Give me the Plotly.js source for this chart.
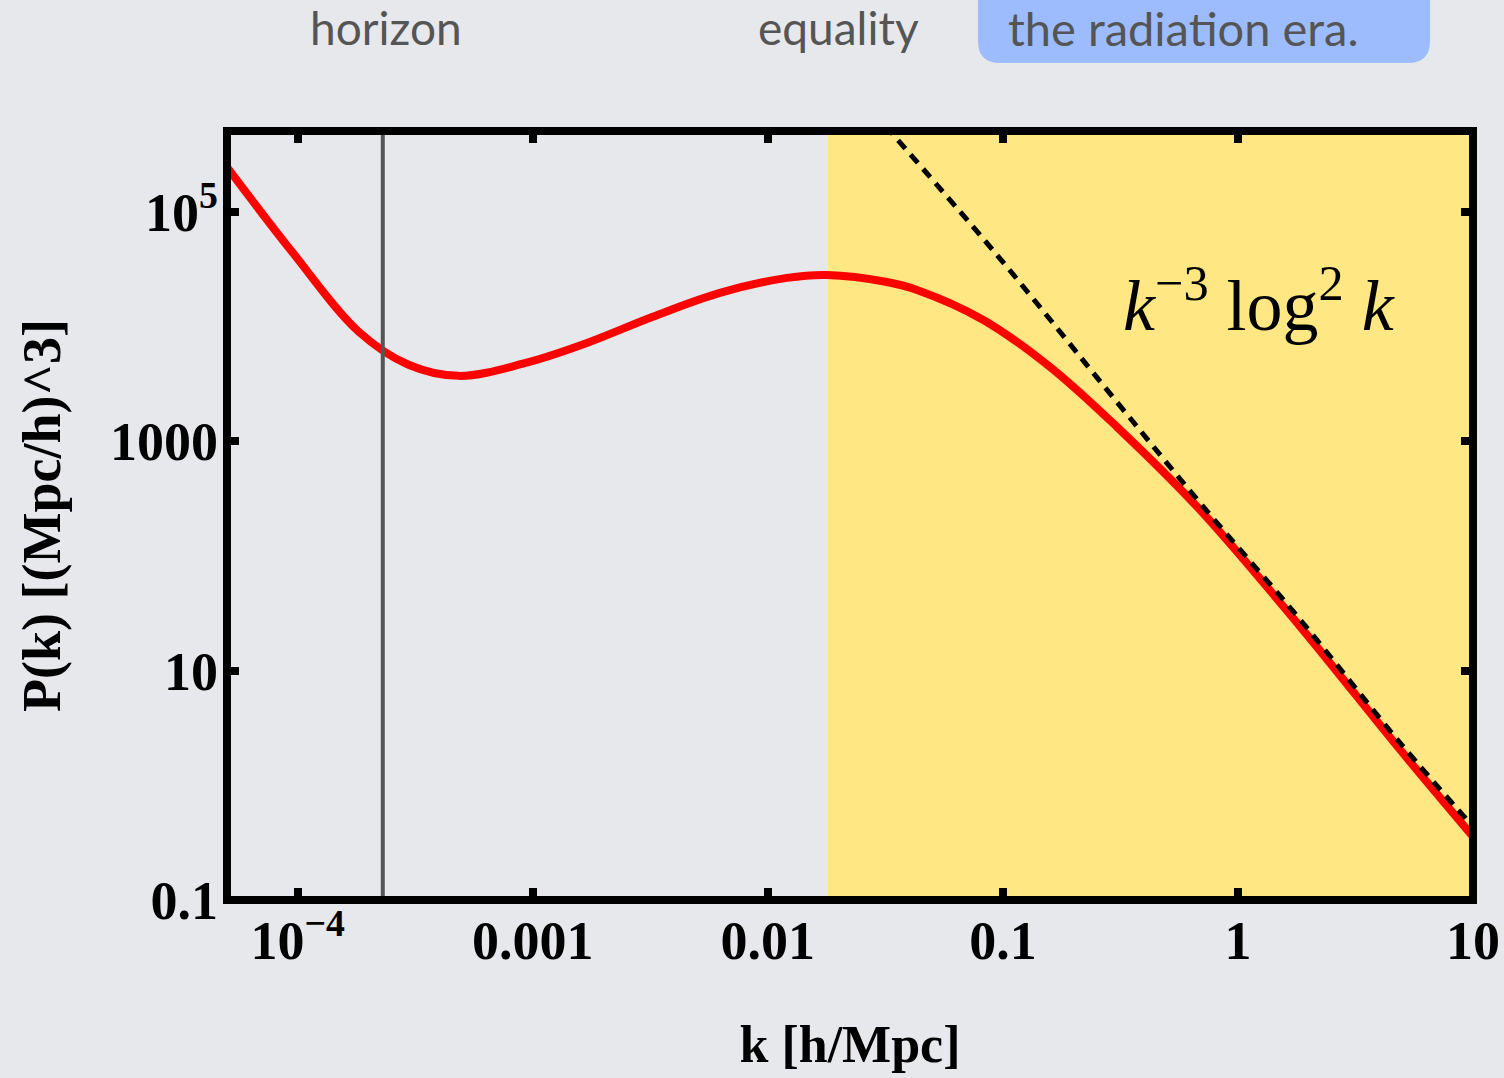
<!DOCTYPE html>
<html>
<head>
<meta charset="utf-8">
<script src="https://cdn.plot.ly/plotly-3.0.1.min.js"></script>
<style>
  html, body { margin: 0; padding: 0; background: #e6e8ec; }
  #chart { width: 1504px; height: 1078px; }
</style>
</head>
<body>
<div id="chart"></div>
<script>
// ---- Data ----
const kPower = [4.99e-5, 9.53e-5, 1.82e-4, 2.96e-4, 4.84e-4, 9.33e-4, 1.70e-3, 3.24e-3, 6.25e-3, 1.205e-2,
                1.78e-2, 3.21e-2, 4.31e-2, 8.22e-2, 0.1585, 0.305, 0.689, 1.84, 4.89, 10];
const pPower = [2.47e5, 4.40e4, 9.0e3, 4.65e3, 3.72e3, 4.83e3, 7.21e3, 1.22e4, 1.97e4, 2.66e4,
                2.82e4, 2.45e4, 2.09e4, 1.15e4, 4.46e3, 1.34e3, 253, 24.2, 2.05, 0.357];

const kAsym = [0.028, 0.0943, 0.305, 0.689, 1.84, 4.89, 10];
const pAsym = [7.5e5, 4.22e4, 2.21e3, 291, 27.8, 2.35, 0.436];

const horizonK = 2.3e-4;          // vertical grey line
const equalityK = 0.018;          // start of shaded radiation era region
const xRangeK = [5e-5, 10];
const yRangeP = [0.1, 5.08e5];

const xTickVals = [1e-4, 1e-3, 1e-2, 0.1, 1, 10];
const xTickText = ['10<sup>\u22124</sup>', '0.001', '0.01', '0.1', '1', '10'];
const yTickVals = [0.1, 10, 1000, 1e5];
const yTickText = ['0.1', '10', '1000', '10<sup>5</sup>'];

const asymLabel = '<i>k</i><sup>\u22123</sup> log<sup>2</sup> <i>k</i>';
const topLabels = ['horizon', 'equality', 'the radiation era.'];

// ---- Figure ----
const serif = 'Liberation Serif, Times New Roman, serif';
const sans = 'Lato, Open Sans, sans-serif';
const bg = '#e6e8ec';

const traces = [
  {
    x: kPower, y: pPower, type: 'scatter', mode: 'lines',
    line: { color: '#ff0000', width: 8, shape: 'spline', smoothing: 1.0 },
    hoverinfo: 'skip', showlegend: false
  },
  {
    x: kAsym, y: pAsym, type: 'scatter', mode: 'lines',
    line: { color: '#000000', width: 5, dash: '11px,8px', shape: 'spline' },
    hoverinfo: 'skip', showlegend: false
  }
];

// blue rounded box (paper coords)
const bx0 = 0.6027, bx1 = 0.9655, byb = 1.0884, byt = 1.25, rx = 0.0177, ry = 0.0286;
const boxPath = `M ${bx0},${byt} L ${bx0},${byb + ry} Q ${bx0},${byb} ${bx0 + rx},${byb} ` +
                `L ${bx1 - rx},${byb} Q ${bx1},${byb} ${bx1},${byb + ry} L ${bx1},${byt} Z`;

const axisCommon = {
  type: 'log',
  ticks: 'inside', ticklen: 12, tickwidth: 8, tickcolor: '#000',
  mirror: 'ticks', showline: false, showgrid: false, zeroline: false,
  tickfont: { family: serif, size: 54, color: '#000', weight: 'bold' },
  fixedrange: true
};

const layout = {
  width: 1504, height: 1078,
  margin: { l: 227, r: 31, t: 131, b: 178 },
  paper_bgcolor: bg, plot_bgcolor: bg,
  xaxis: Object.assign({}, axisCommon, {
    range: [Math.log10(xRangeK[0]), Math.log10(xRangeK[1])],
    tickmode: 'array', tickvals: xTickVals, ticktext: xTickText,
    ticklabelstandoff: 4,
    title: { text: 'k [h/Mpc]', font: { family: serif, size: 52, color: '#000', weight: 'bold' }, standoff: 55 }
  }),
  yaxis: Object.assign({}, axisCommon, {
    range: [Math.log10(yRangeP[0]), Math.log10(yRangeP[1])],
    tickmode: 'array', tickvals: yTickVals, ticktext: yTickText,
    ticklabelstandoff: 8,
    title: { text: 'P(k) [(Mpc/h)^3]', font: { family: serif, size: 54, color: '#000', weight: 'bold' }, standoff: 32 }
  }),
  shapes: [
    { type: 'rect', xref: 'x', yref: 'paper', x0: equalityK, x1: xRangeK[1], y0: 0, y1: 1,
      fillcolor: '#ffe884', line: { width: 0 }, layer: 'below' },
    { type: 'line', xref: 'x', yref: 'paper', x0: horizonK, x1: horizonK, y0: 0, y1: 1,
      line: { color: '#555555', width: 4 }, layer: 'above' },
    { type: 'rect', xref: 'paper', yref: 'paper', x0: 0, x1: 1, y0: 0, y1: 1,
      line: { color: '#000', width: 8 }, fillcolor: 'rgba(0,0,0,0)', layer: 'above' },
    { type: 'path', xref: 'paper', yref: 'paper', path: boxPath,
      fillcolor: '#9dbcfd', line: { width: 0 }, layer: 'below' }
  ],
  annotations: [
    { xref: 'paper', yref: 'paper', x: 0.829, y: 0.78, xanchor: 'center', yanchor: 'middle',
      text: asymLabel, showarrow: false, font: { family: serif, size: 72, color: '#000' } },
    { xref: 'paper', yref: 'paper', x: 0.1276, y: 1.134, xanchor: 'center', yanchor: 'middle',
      text: topLabels[0], showarrow: false, font: { family: sans, size: 46, color: '#555555' } },
    { xref: 'paper', yref: 'paper', x: 0.4904, y: 1.134, xanchor: 'center', yanchor: 'middle',
      text: topLabels[1], showarrow: false, font: { family: sans, size: 46, color: '#555555' } },
    { xref: 'paper', yref: 'paper', x: 0.768, y: 1.134, xanchor: 'center', yanchor: 'middle',
      text: topLabels[2], showarrow: false, font: { family: sans, size: 47, color: '#555555' } }
  ]
};

Plotly.newPlot('chart', traces, layout, { displayModeBar: false, staticPlot: true });
</script>
</body>
</html>
